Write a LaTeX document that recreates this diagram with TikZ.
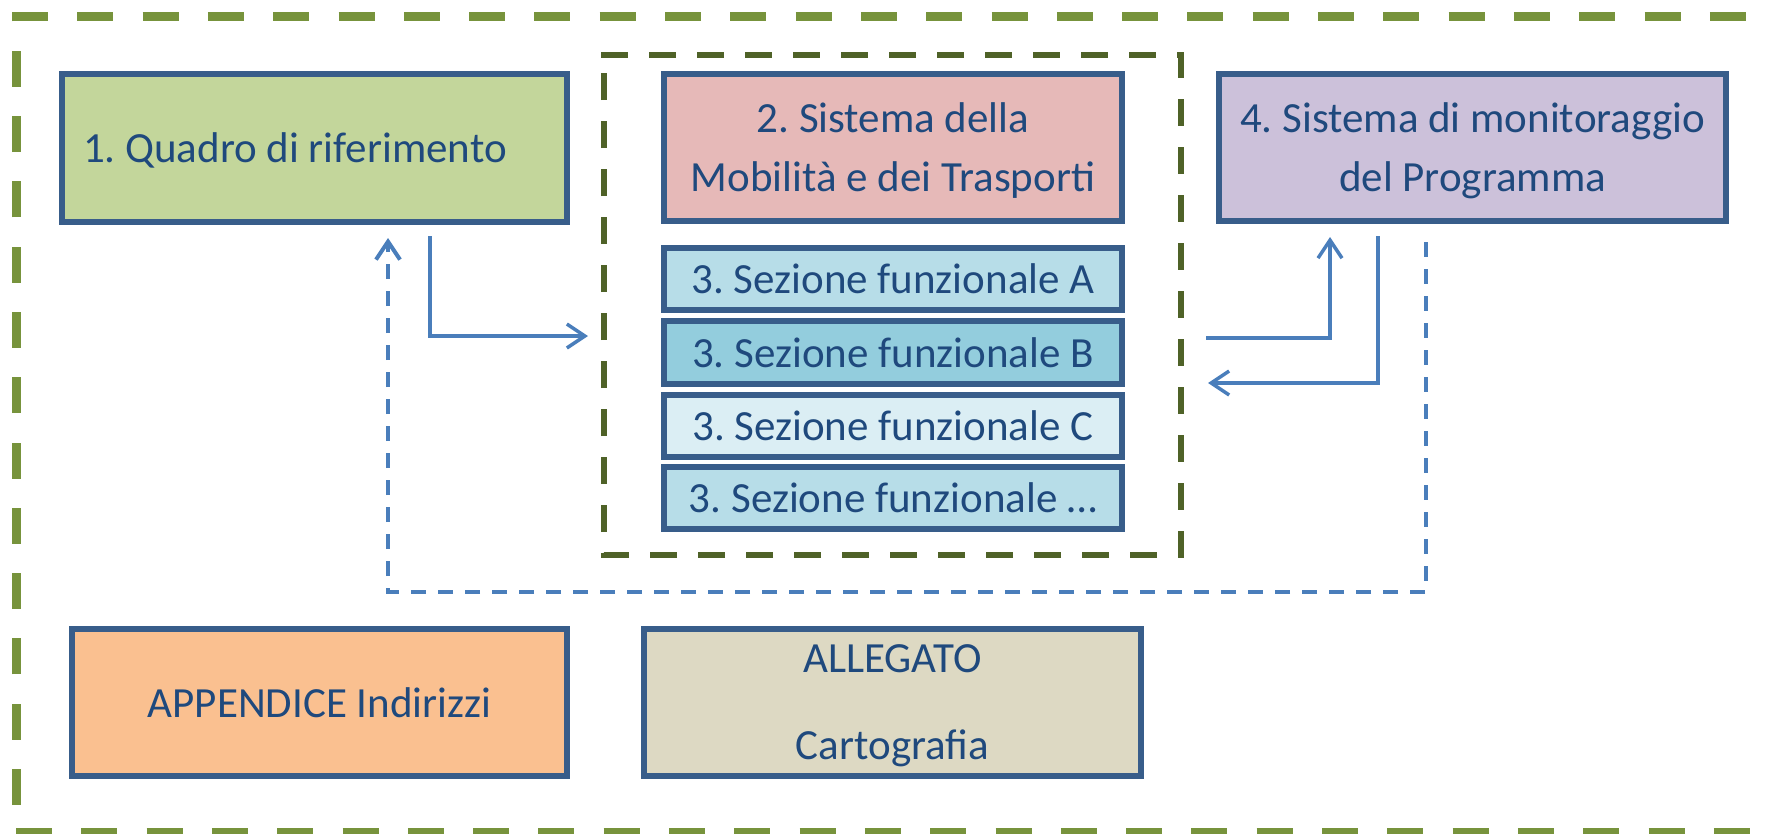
\documentclass[tikz,border=0pt]{standalone}
\usepackage{fontspec}
\setmainfont{Carlito}
\usetikzlibrary{arrows.meta}
\definecolor{outerG}{HTML}{77933C}
\definecolor{innerG}{HTML}{4F6228}
\definecolor{bordB}{HTML}{385D8A}
\definecolor{txtB}{HTML}{1F497D}
\definecolor{arrB}{HTML}{4A7EBB}
\definecolor{fGreen}{HTML}{C3D69B}
\definecolor{fPink}{HTML}{E6B9B8}
\definecolor{fPurple}{HTML}{CCC1DA}
\definecolor{fSecA}{HTML}{B7DDE8}
\definecolor{fSecB}{HTML}{93CDDD}
\definecolor{fSecC}{HTML}{DBEEF4}
\definecolor{fOrange}{HTML}{FAC090}
\definecolor{fBeige}{HTML}{DDD9C3}
\frenchspacing
\tikzset{
  boxstyle/.style={draw=bordB, line width=5.5pt, text=txtB, inner sep=0pt, outer sep=0pt,
    font=\fontsize{43}{59}\selectfont\frenchspacing, align=center, text depth=0pt},
  outerframe/.style={outerG, line width=9pt, dash pattern=on 36pt off 29.3pt},
  innerframe/.style={innerG, line width=6pt, dash pattern=on 27pt off 21pt},
  conn/.style={draw=arrB, line width=3.5pt, -{Straight Barb[length=18pt,width=24pt]}},
  dconn/.style={draw=arrB, line width=4pt, dash pattern=on 15pt off 12pt, -{Straight Barb[length=18pt,width=24pt]}}
}
\begin{document}
\begin{tikzpicture}[x=1pt,y=-1pt]
\useasboundingbox (0,0) rectangle (1772,833);
\clip (0,0) rectangle (1772,833);
% outer frame (right side lies beyond the picture)
\draw[outerframe] (12,16.5) -- (1800,16.5);
\draw[outerframe] (16.5,870.3) -- (16.5,12);
\draw[outerframe] (16,832) -- (1800,832);
% inner frame
\draw[innerframe] (601,55) -- (1181,55) -- (1181,555) -- (604,555) -- (604,55);
% boxes
\node[boxstyle, fill=fGreen, minimum width=505pt, minimum height=148pt] (quadro) at (314.5,148) {\makebox[463pt][l]{1. Quadro di riferimento}};
\node[boxstyle, fill=fPink, minimum width=458pt, minimum height=147pt] (sistema) at (893,147.5) {2. Sistema della\\Mobilità e dei Trasporti};
\node[boxstyle, fill=fPurple, minimum width=507pt, minimum height=147pt] (monit) at (1472.5,147.5) {4. Sistema di monitoraggio\\del Programma};
\node[boxstyle, fill=fSecA, minimum width=458pt, minimum height=62pt] (secA) at (893,279) {3. Sezione funzionale A};
\node[boxstyle, fill=fSecB, minimum width=458pt, minimum height=63pt] (secB) at (893,352.5) {3. Sezione funzionale B};
\node[boxstyle, fill=fSecC, minimum width=458pt, minimum height=62pt] (secC) at (893,426) {3. Sezione funzionale C};
\node[boxstyle, fill=fSecA, minimum width=458pt, minimum height=62pt] (secD) at (893,498) {3. Sezione funzionale …};
\node[boxstyle, fill=fOrange, minimum width=495pt, minimum height=147pt] (append) at (319.5,702.5) {APPENDICE Indirizzi};
\node[boxstyle, fill=fBeige, minimum width=497pt, minimum height=147pt, font=\fontsize{43}{87}\selectfont] (alleg) at (892.5,702.5) {ALLEGATO\\Cartografia};
% connector end points
\coordinate (a1s) at (430,236);
\coordinate (a1e) at (588,336);
\coordinate (a2s) at (1206,338);
\coordinate (a2e) at (1330,237);
\coordinate (a3s) at (1378,236);
\coordinate (a3e) at (1208,383);
\coordinate (d1s) at (1426,242);
\coordinate (d1c) at (388,592);
\coordinate (d1e) at (388,238);
\draw[conn] (a1s) |- (a1e);
\draw[conn] (a2s) -| (a2e);
\draw[conn] (a3s) |- (a3e);
\draw[dconn] (d1s) |- (d1c) -- (d1e);
\end{tikzpicture}
\end{document}
